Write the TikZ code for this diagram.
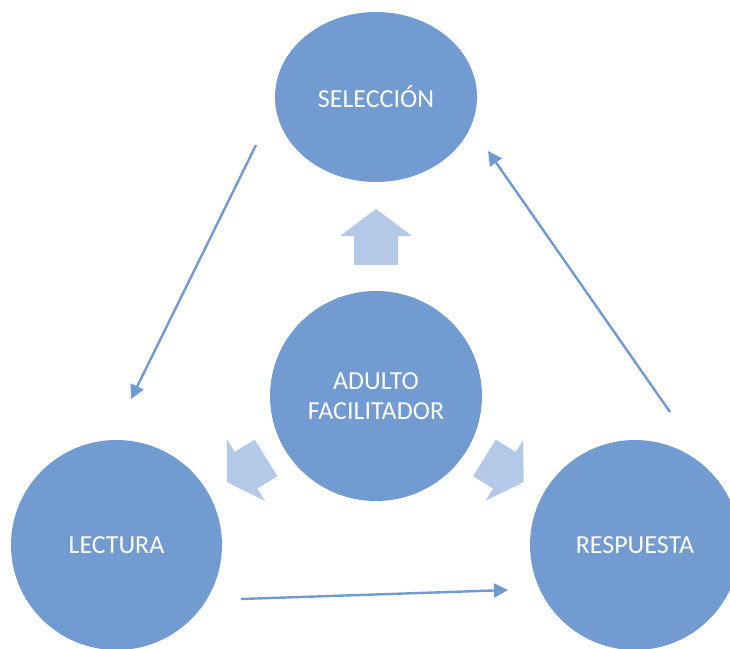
\documentclass[tikz,border=0pt]{standalone}
\usepackage{fontspec}
\setmainfont{Carlito}
\usetikzlibrary{shapes.geometric,arrows.meta}
\definecolor{bub}{HTML}{729BD2}
\definecolor{lnk}{HTML}{6F9AD2}
\definecolor{pale}{HTML}{B4C8E8}
\tikzset{
  bubble/.style={ellipse,fill=bub,draw=none,inner sep=0pt,text=white,
    font=\fontsize{26}{29.5}\selectfont,align=center},
  flow/.style={draw=lnk,line width=2.4pt,-{Triangle[length=14pt,width=14pt]}},
  blockarr/.style={fill=pale,draw=none}
}
\begin{document}
\begin{tikzpicture}[x=1pt,y=-1pt]
\useasboundingbox (0,0) rectangle (730,648);
\clip (0,0) rectangle (730,648);
% bubbles
\node[bubble,minimum width=202pt,minimum height=170pt] (sel) at (376,97) {SELECCIÓN};
\node[bubble,minimum width=212pt,minimum height=210pt] (adu) at (376,396) {ADULTO\\FACILITADOR};
\node[bubble,minimum width=211pt,minimum height=210pt] (lec) at (116.5,545) {LECTURA};
\node[bubble,minimum width=210pt,minimum height=210pt] (res) at (635,545) {RESPUESTA};
% block arrows
\begin{scope}[shift={(376,237)},rotate=90]
  \fill[blockarr] (28,0) -- (1,36) -- (1,22) -- (-28,22) -- (-28,-22) -- (1,-22) -- (1,-36) -- cycle;
\end{scope}
\begin{scope}[shift={(246.5,470)},rotate=211.7]
  \fill[blockarr] (23,0) -- (0.5,36) -- (0.5,21.5) -- (-23,21.5) -- (-23,-21.5) -- (0.5,-21.5) -- (0.5,-36) -- cycle;
\end{scope}
\begin{scope}[shift={(504,470)},rotate=-31.7]
  \fill[blockarr] (23,0) -- (0.5,36) -- (0.5,21.5) -- (-23,21.5) -- (-23,-21.5) -- (0.5,-21.5) -- (0.5,-36) -- cycle;
\end{scope}
% connectors
\coordinate (s1) at (256,145);
\coordinate (e1) at (131,399);
\coordinate (s2) at (241,599);
\coordinate (e2) at (508,590);
\coordinate (s3) at (670,412);
\coordinate (e3) at (488,151);
\draw[flow] (s1) -- (e1);
\draw[flow] (s2) -- (e2);
\draw[flow] (s3) -- (e3);
\end{tikzpicture}
\end{document}
